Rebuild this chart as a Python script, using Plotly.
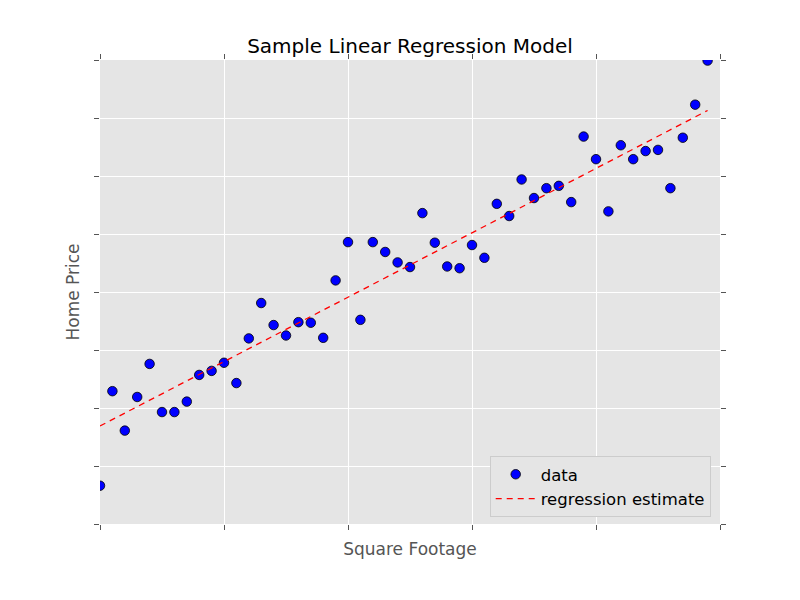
import plotly.graph_objects as go

# square footage index (no tick labels shown) and home price
sqft = list(range(50))
price = [0.66, 2.29, 1.61, 2.19, 2.76, 1.93, 1.93, 2.11, 2.57, 2.64,
         2.78, 2.43, 3.20, 3.81, 3.43, 3.25, 3.48, 3.47, 3.21, 4.20,
         4.86, 3.52, 4.86, 4.69, 4.51, 4.43, 5.36, 4.85, 4.44, 4.41,
         4.81, 4.59, 5.52, 5.31, 5.94, 5.62, 5.79, 5.83, 5.55, 6.68,
         6.29, 5.39, 6.53, 6.29, 6.43, 6.45, 5.79, 6.66, 7.23, 7.99]

# regression estimate endpoints
reg_x = [0, 49]
reg_y = [1.69, 7.13]

x_ticks = [0, 10, 20, 30, 40, 50]
y_ticks = [0, 1, 2, 3, 4, 5, 6, 7, 8]

fig = go.Figure()
fig.add_trace(go.Scatter(
    x=sqft, y=price, mode='markers', name='data',
    marker=dict(color='#0000FF', size=9.5, line=dict(color='black', width=0.8)),
))
fig.add_trace(go.Scatter(
    x=reg_x, y=reg_y, mode='lines', name='regression estimate',
    line=dict(color='#FF0000', width=1.3, dash='6px,5px'),
))

axis_common = dict(
    showgrid=True, gridcolor='white', gridwidth=1,
    zeroline=False, showline=False, automargin=False,
    showticklabels=False, ticks='outside', ticklen=5,
    tickcolor='#555555', tickwidth=1, mirror='ticks',
)

fig.update_layout(
    width=800, height=600,
    margin=dict(l=92, r=88, t=52, b=84),
    paper_bgcolor='white', plot_bgcolor='#E5E5E5',
    font=dict(family='DejaVu Sans', size=17, color='black'),
    title=dict(text='Sample Linear Regression Model', x=0.5025, xanchor='center',
               y=0.937, yanchor='middle', font=dict(size=20, color='black')),
    xaxis=dict(range=[0, 50], tickvals=x_ticks,
               title=dict(text='Square Footage', font=dict(size=17, color='#555555'),
                          standoff=14),
               **axis_common),
    yaxis=dict(range=[0, 8], tickvals=y_ticks,
               title=dict(text='Home Price', font=dict(size=17, color='#555555'),
                          standoff=10),
               **axis_common),
    legend=dict(x=0.985, y=0.015, xanchor='right', yanchor='bottom',
                bgcolor='#E5E5E5', bordercolor='#CCCCCC', borderwidth=1,
                itemwidth=40, font=dict(size=16.5, color='black')),
)

fig.write_html("out.html")
